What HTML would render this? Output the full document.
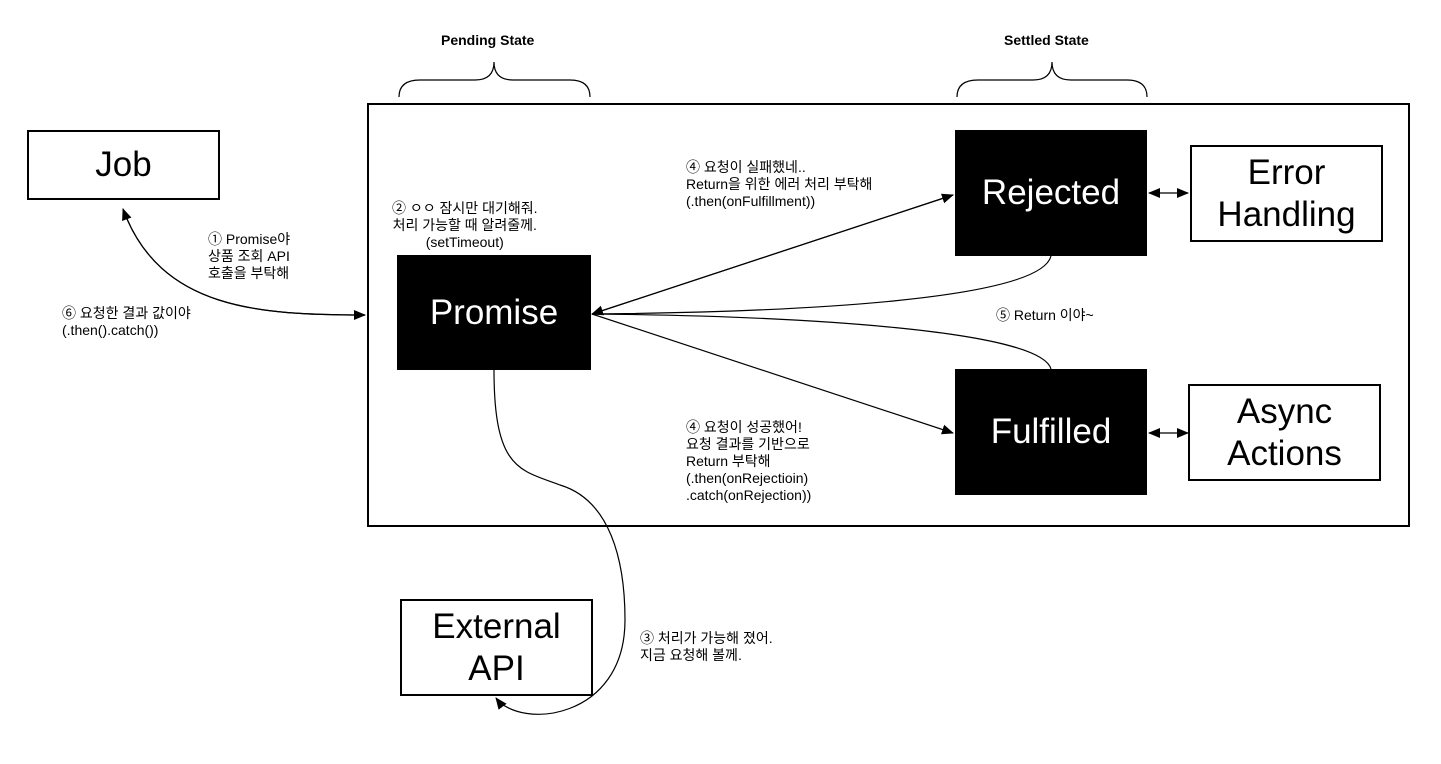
<!DOCTYPE html>
<html><head><meta charset="utf-8"><style>
body{margin:0;background:#fff;width:1441px;height:764px;overflow:hidden;font-family:"Liberation Sans","Noto Sans CJK KR",sans-serif}
svg{position:absolute;left:0;top:0}
.t{position:absolute;font-size:14px;line-height:17px;color:#000;white-space:nowrap}
.b{position:absolute;box-sizing:border-box;display:flex;align-items:center;justify-content:center;text-align:center;font-size:35px;line-height:42px}
.w{border:2px solid #000;background:#fff;color:#000}
.k{background:#000;color:#fff}
</style></head><body>
<svg width="1441" height="764">
<defs><marker id="a" markerWidth="12" markerHeight="12" refX="11" refY="6" orient="auto" markerUnits="userSpaceOnUse"><path d="M0,1L12,6L0,11z" fill="#000"/></marker></defs>
<rect x="368" y="104" width="1041" height="422" fill="none" stroke="#000" stroke-width="2"/>
<g fill="none" stroke="#000" stroke-width="1.2">
<path d="M399,97 Q399,80 420,80 L475,80 Q494,80 494,62 Q494,80 513,80 L570,80 Q590,80 590,97"/>
<path d="M957,97 Q957,80 978,80 L1033,80 Q1052,80 1052,62 Q1052,80 1071,80 L1127,80 Q1147,80 1147,97"/>
<path d="M365,315 C260,315 160,310 123,209" marker-end="url(#a)"/>
<path d="M123,209 C160,310 260,315 365,315" marker-end="url(#a)"/>
<path d="M592,314 L953,195" marker-end="url(#a)"/>
<path d="M953,195 L592,314" marker-end="url(#a)"/>
<path d="M592,314 L953,433" marker-end="url(#a)"/>
<path d="M1051,256 C1040,300 800,312 593,314"/>
<path d="M1051,369 C1040,330 800,316 593,314"/>
<path d="M494,370 C494,470 520,470 560,485 C610,500 625,560 625,620 C625,720 520,730 496,698" marker-end="url(#a)"/>
<path d="M1168,193 L1188,193" marker-end="url(#a)"/>
<path d="M1168,193 L1149,193" marker-end="url(#a)"/>
<path d="M1168,433 L1188,433" marker-end="url(#a)"/>
<path d="M1168,433 L1149,433" marker-end="url(#a)"/>
</g>
</svg>
<div class="t" style="left:441px;top:32px;font-weight:bold;font-size:14px">Pending State</div>
<div class="t" style="left:1004px;top:32px;font-weight:bold;font-size:14px">Settled State</div>
<div class="b w" style="left:27px;top:130px;width:193px;height:70px">Job</div>
<div class="b k" style="left:397px;top:255px;width:194px;height:115px">Promise</div>
<div class="b k" style="left:955px;top:130px;width:192px;height:126px">Rejected</div>
<div class="b k" style="left:955px;top:369px;width:192px;height:126px">Fulfilled</div>
<div class="b w" style="left:1190px;top:145px;width:193px;height:97px">Error<br>Handling</div>
<div class="b w" style="left:1188px;top:384px;width:193px;height:97px">Async<br>Actions</div>
<div class="b w" style="left:400px;top:599px;width:193px;height:97px">External<br>API</div>
<div class="t" style="left:208px;top:231px">① Promise야<br>상품 조회 API<br>호출을 부탁해</div>
<div class="t" style="left:62px;top:305px">⑥ 요청한 결과 값이야<br>(.then().catch())</div>
<div class="t" style="left:392px;top:200px;text-align:center">② ㅇㅇ 잠시만 대기해줘.<br>처리 가능할 때 알려줄께.<br>(setTimeout)</div>
<div class="t" style="left:686px;top:159px">④ 요청이 실패했네..<br>Return을 위한 에러 처리 부탁해<br>(.then(onFulfillment))</div>
<div class="t" style="left:996px;top:307px">⑤ Return 이야~</div>
<div class="t" style="left:686px;top:419px">④ 요청이 성공했어!<br>요청 결과를 기반으로<br>Return 부탁해<br>(.then(onRejectioin)<br>.catch(onRejection))</div>
<div class="t" style="left:640px;top:630px">③ 처리가 가능해 졌어.<br>지금 요청해 볼께.</div>
</body></html>
